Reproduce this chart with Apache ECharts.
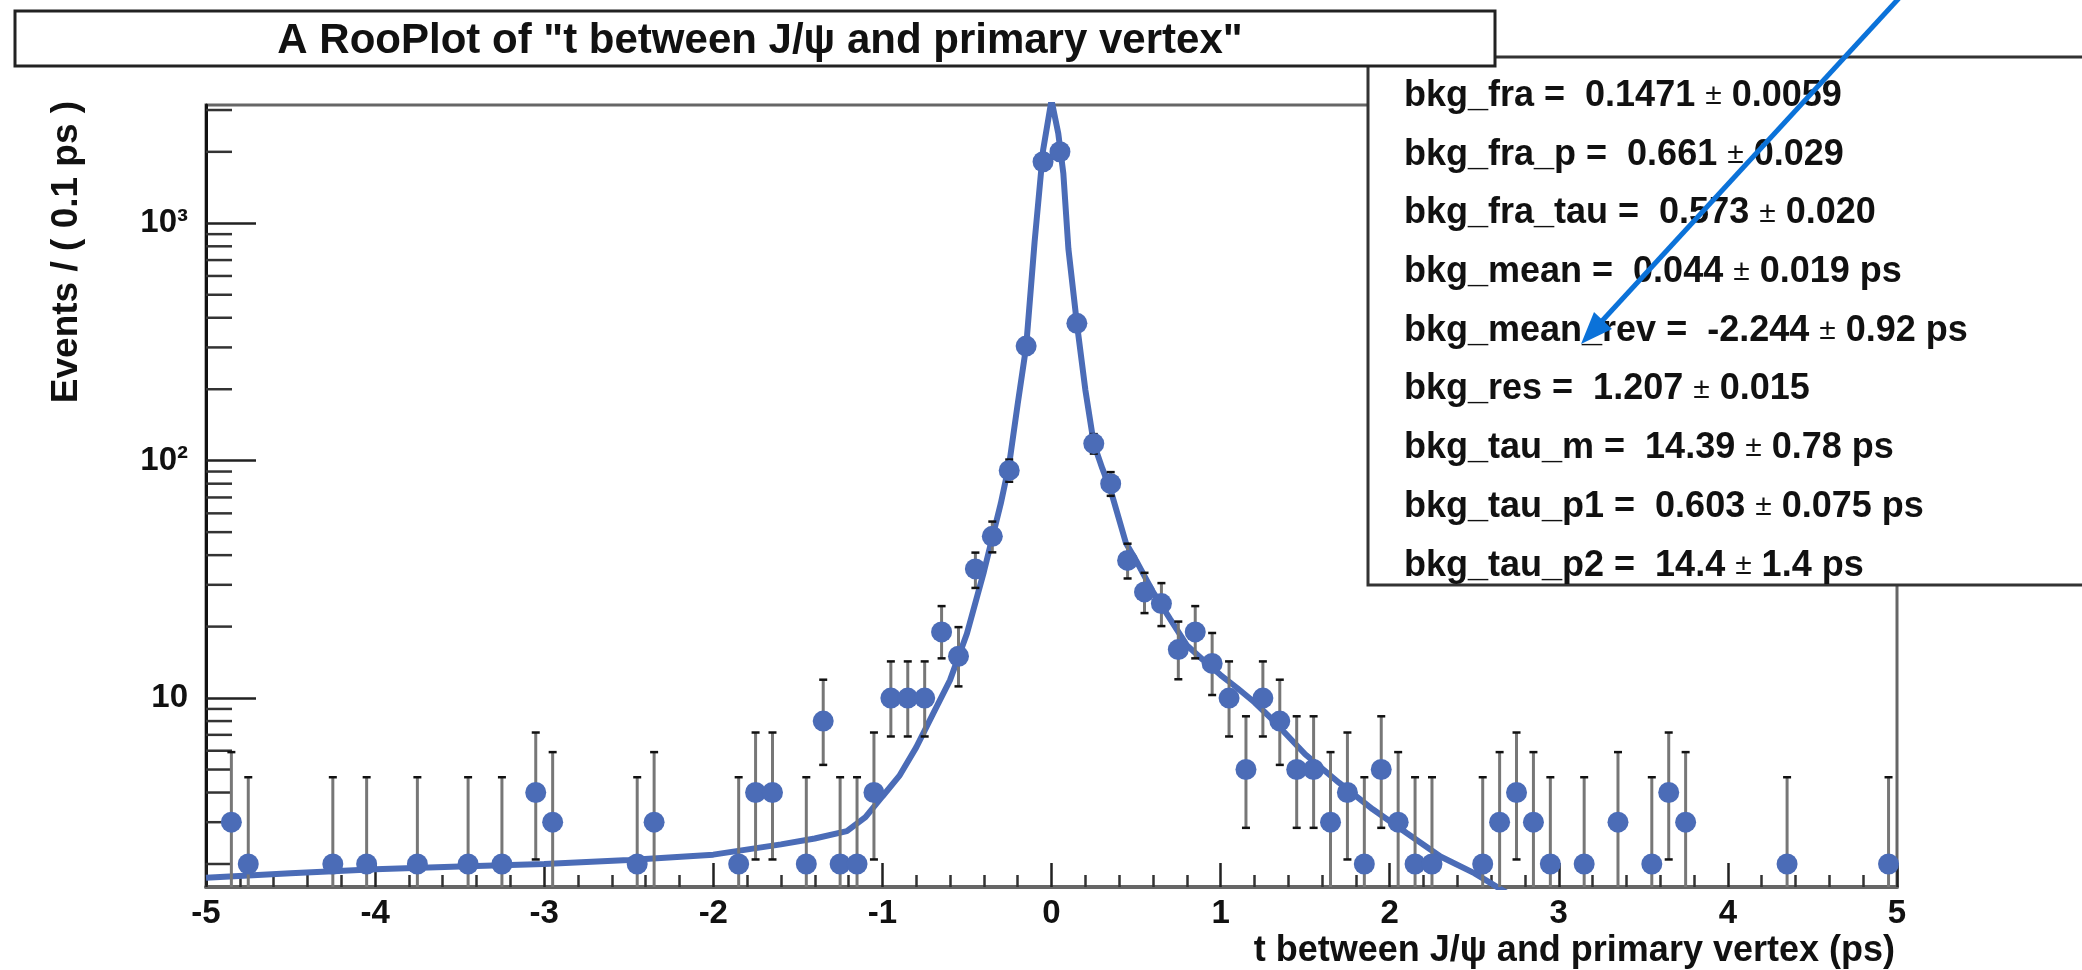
<!DOCTYPE html>
<html>
<head>
<meta charset="utf-8">
<script src="https://cdn.jsdelivr.net/npm/echarts@6/dist/echarts.min.js"></script>
<style>
html,body{margin:0;padding:0;background:#fff;}
#chart{width:2082px;height:970px;}
</style>
</head>
<body>
<div id="chart"></div>
<script>
// ---------------- data ----------------
const chartTitle = 'A RooPlot of "t between J/\u03c8 and primary vertex"';
const xAxisTitle = 't between J/\u03c8 and primary vertex (ps)';
const yAxisTitle = 'Events / ( 0.1 ps )';

// bin centres (ps) of non-empty bins and event counts
const binCenters = [-4.85,-4.75,-4.25,-4.05,-3.75,-3.45,-3.25,-3.05,-2.95,-2.45,-2.35,-1.85,-1.75,-1.65,-1.45,-1.35,-1.25,-1.15,-1.05,-0.95,-0.85,-0.75,-0.65,-0.55,-0.45,-0.35,-0.25,-0.15,-0.05,0.05,0.15,0.25,0.35,0.45,0.55,0.65,0.75,0.85,0.95,1.05,1.15,1.25,1.35,1.45,1.55,1.65,1.75,1.85,1.95,2.05,2.15,2.25,2.55,2.65,2.75,2.85,2.95,3.15,3.35,3.55,3.65,3.75,4.35,4.95];
const counts     = [3,2,2,2,2,2,2,4,3,2,3,2,4,4,2,8,2,2,4,10,10,10,19,15,35,48,91,304,1816,2002,379,118,80,38,28,25,16,19,14,10,5,10,8,5,5,3,4,2,5,3,2,2,2,3,4,3,2,2,3,2,4,3,2,2];
// asymmetric error bar ends
const errLow  = [1.37,0.71,0.71,0.71,0.71,0.71,0.71,2.09,1.37,0.71,1.37,0.71,2.09,2.09,0.71,5.23,0.71,0.71,2.09,6.89,6.89,6.89,14.7,11.2,29.1,41.1,81.5,286.6,1773,1957,359.6,107.1,71.1,31.9,22.8,20.1,12.0,14.7,10.3,6.89,2.84,6.89,5.23,2.84,2.84,1.37,2.09,0.71,2.84,1.37,0.71,0.71,0.71,1.37,2.09,1.37,0.71,0.71,1.37,0.71,2.09,1.37,0.71,0.71];
const errHigh = [5.92,4.64,4.64,4.64,4.64,4.64,4.64,7.16,5.92,4.64,5.92,4.64,7.16,7.16,4.64,11.95,4.64,4.64,7.16,14.27,14.27,14.27,24.4,19.9,41.0,55.4,101.1,321.9,1859,2047,398.9,129.4,89.5,44.7,33.7,30.5,21.0,24.4,18.8,14.27,8.38,14.27,11.95,8.38,8.38,5.92,7.16,4.64,8.38,5.92,4.64,4.64,4.64,5.92,7.16,5.92,4.64,4.64,5.92,4.64,7.16,5.92,4.64,4.64];

// fitted model curve
const curveT = [-5.0,-4.5,-4.0,-3.5,-3.0,-2.5,-2.0,-1.6,-1.4,-1.21,-1.1,-1.0,-0.9,-0.8,-0.7,-0.6,-0.5,-0.4,-0.3,-0.25,-0.2,-0.15,-0.1,-0.05,0.0,0.04,0.07,0.1,0.15,0.2,0.25,0.3,0.35,0.44,0.5,0.6,0.7,0.8,0.9,1.0,1.1,1.2,1.3,1.5,1.7,1.9,2.1,2.3,2.5,2.7];
const curveY = [1.75,1.83,1.90,1.95,2.00,2.08,2.19,2.42,2.56,2.75,3.15,3.85,4.7,6.2,8.6,11.9,18.7,34,66,97,173,302,834,2027,3300,2393,1623,780,379,199,118,93,75,45,38,28,21.6,16.7,14.4,12.5,11.0,9.6,8.2,5.8,4.4,3.4,2.7,2.15,1.83,1.5];

// axis ticks
const xTickLabels = ['-5','-4','-3','-2','-1','0','1','2','3','4','5'];
const yMajorTicks = [10, 100, 1000];
const yTickLabels = ['10', '10\u00b2', '10\u00b3'];
const yMinorTicks = [2,3,4,5,6,7,8,9,20,30,40,50,60,70,80,90,200,300,400,500,600,700,800,900,2000,3000];

// fit parameters box
const paramNames  = ['bkg_fra','bkg_fra_p','bkg_fra_tau','bkg_mean','bkg_mean_rev','bkg_res','bkg_tau_m','bkg_tau_p1','bkg_tau_p2'];
const paramValues = ['0.1471','0.661','0.573','0.044','-2.244','1.207','14.39','0.603','14.4'];
const paramErrors = ['0.0059','0.029','0.020','0.019','0.92','0.015','0.78','0.075','1.4'];
const paramUnits  = ['','','',' ps',' ps','',' ps',' ps',' ps'];

// ---------------- chart ----------------
const FONT = '"Liberation Sans", Arial, Helvetica, sans-serif';
const BLUE = '#4b6cb7';
const X_MIN = -5, X_MAX = 5, Y_MIN = 1.6, Y_MAX = 3150;

const chart = echarts.init(document.getElementById('chart'), null, {renderer: 'canvas'});

const pointData = binCenters.map((x, i) => [x, counts[i]]);
const errData = binCenters.map((x, i) => [x, errLow[i], errHigh[i]]);
const curveData = curveT.map((t, i) => [t, curveY[i]]);

const graphics = [];
graphics.push({
  type: 'rect', z: 100,
  shape: {x: 1368, y: 57, width: 760, height: 528},
  style: {fill: '#fff', stroke: '#333', lineWidth: 3}
});
graphics.push({
  type: 'rect', z: 101,
  shape: {x: 15, y: 11, width: 1480, height: 55},
  style: {fill: '#fff', stroke: '#222', lineWidth: 3}
});
paramNames.forEach((n, i) => {
  graphics.push({
    type: 'text', z: 102,
    x: 1404, y: 96 + i * 58.7,
    style: {
      text: n + ' =  ' + paramValues[i] + ' {pm|\u00b1} ' + paramErrors[i] + paramUnits[i],
      fontFamily: FONT, fontSize: 36, fontWeight: 'bold', fill: '#111',
      verticalAlign: 'middle', align: 'left',
      rich: {pm: {fontFamily: FONT, fontSize: 30, fontWeight: 'normal', fill: '#111'}}
    }
  });
});
// y axis title
graphics.push({
  type: 'text', z: 102, x: 67, y: 252, rotation: Math.PI / 2,
  style: {text: yAxisTitle, fontFamily: FONT, fontSize: 37, fontWeight: 'bold', fill: '#111',
    align: 'center', verticalAlign: 'middle'}
});
// annotation arrow
graphics.push({
  type: 'line', z: 103,
  shape: {x1: 1901, y1: -4, x2: 1602, y2: 321},
  style: {stroke: '#0b72d9', lineWidth: 5}
});
graphics.push({
  type: 'polygon', z: 103,
  shape: {points: [[1581, 344], [1612, 329], [1594, 312]]},
  style: {fill: '#0b72d9'}
});

const option = {
  backgroundColor: '#fff',
  animation: false,
  title: {
    text: chartTitle, left: 755, top: 15, textAlign: 'center', z: 200,
    textStyle: {fontFamily: FONT, fontSize: 42, fontWeight: 'bold', color: '#111'}
  },
  grid: {
    left: 206, right: 185, top: 105, bottom: 83,
    containLabel: false, outerBoundsMode: 'none',
    show: true, borderColor: '#666', borderWidth: 3, backgroundColor: 'transparent'
  },
  xAxis: {
    type: 'value', min: X_MIN, max: X_MAX, interval: 1,
    name: xAxisTitle, nameLocation: 'end', nameGap: -2,
    nameTextStyle: {fontFamily: FONT, fontSize: 36, fontWeight: 'bold', color: '#111',
      align: 'right', verticalAlign: 'top', padding: [46, 0, 0, 0]},
    axisLine: {show: true, onZero: false, lineStyle: {color: '#666', width: 4}},
    axisTick: {show: true, inside: true, length: 24, lineStyle: {color: '#222', width: 2.5}},
    minorTick: {show: true, splitNumber: 5, length: 12, lineStyle: {color: '#333', width: 2.5}},
    axisLabel: {
      margin: 10, fontFamily: FONT, fontSize: 33, fontWeight: 'bold', color: '#111',
      formatter: v => xTickLabels[Math.round(v - X_MIN)]
    },
    splitLine: {show: false}
  },
  yAxis: {
    type: 'log', logBase: 10, min: Y_MIN, max: Y_MAX,
    axisLine: {show: true, onZero: false, lineStyle: {color: '#111', width: 3}},
    axisTick: {show: true, inside: true, length: 50, lineStyle: {color: '#222', width: 2.5}},
    axisLabel: {
      margin: 18, fontFamily: FONT, fontSize: 33, fontWeight: 'bold', color: '#111',
      padding: [10, 0, 0, 0],
      showMinLabel: false, showMaxLabel: false,
      formatter: v => {
        const k = yMajorTicks.findIndex(t => Math.abs(t - v) / t < 1e-6);
        return k >= 0 ? yTickLabels[k] : '';
      }
    },
    splitLine: {show: false}
  },
  graphic: {elements: graphics},
  series: [
    {
      name: 'minor y ticks', type: 'custom', silent: true, z: 3, clip: false,
      data: yMinorTicks.map(v => [X_MIN, v]),
      renderItem: (params, api) => {
        const p = api.coord([X_MIN, api.value(1)]);
        return {type: 'line', shape: {x1: p[0], y1: p[1], x2: p[0] + 26, y2: p[1]},
          style: {stroke: '#333', lineWidth: 2.5}};
      }
    },
    {
      name: 'model', type: 'line', data: curveData, showSymbol: false, clip: true,
      lineStyle: {color: BLUE, width: 6}, z: 4, silent: true
    },
    {
      name: 'errors', type: 'custom', clip: true, z: 5, silent: true,
      data: errData,
      renderItem: (params, api) => {
        const x = api.value(0);
        const lo = api.coord([x, api.value(1)]);
        const hi = api.coord([x, api.value(2)]);
        return {type: 'group', children: [
          {type: 'line', shape: {x1: lo[0], y1: lo[1], x2: hi[0], y2: hi[1]}, style: {stroke: '#777', lineWidth: 3}},
          {type: 'line', shape: {x1: hi[0] - 4, y1: hi[1], x2: hi[0] + 4, y2: hi[1]}, style: {stroke: '#111', lineWidth: 2.5}},
          {type: 'line', shape: {x1: lo[0] - 4, y1: lo[1], x2: lo[0] + 4, y2: lo[1]}, style: {stroke: '#111', lineWidth: 2.5}}
        ]};
      }
    },
    {
      name: 'data', type: 'scatter', data: pointData, symbol: 'circle', symbolSize: 21,
      itemStyle: {color: BLUE, opacity: 1}, z: 6, clip: true
    }
  ]
};
chart.setOption(option);
</script>
</body>
</html>
